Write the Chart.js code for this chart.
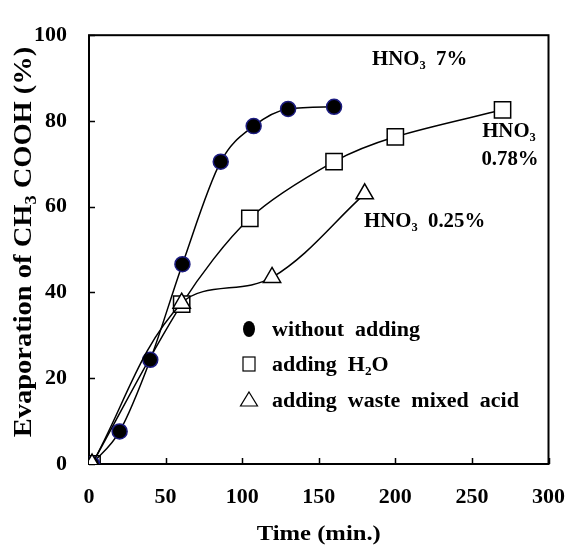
<!DOCTYPE html>
<html>
<head>
<meta charset="utf-8">
<script src="https://cdn.jsdelivr.net/npm/chart.js@4"></script>
<style>
  body { margin: 0; background: #fff; }
  #chart { display: block; }
</style>
</head>
<body>
<canvas id="chart" width="585" height="552"></canvas>
<script>
// data
const timeNoAdd = [2, 20, 40, 61, 86, 107.5, 130, 160];
const evapNoAdd = [0, 7.6, 24.3, 46.6, 70.5, 78.8, 82.8, 83.3];

const timeWater = [2, 60.5, 105, 160, 200, 270];
const evapWater = [0, 37.3, 57.3, 70.5, 76.3, 82.6];

const timeWaste = [2, 60.5, 119.5, 180];
const evapWaste = [0, 37.5, 43.5, 63];

const xTicks = [0, 50, 100, 150, 200, 250, 300];
const yTicks = [0, 20, 40, 60, 80, 100];

const legendLabels = ['without  adding', 'adding  H|2|O', 'adding  waste  mixed  acid'];

const FONT = '"Liberation Serif", "Times New Roman", serif';

function pts(xs, ys) {
  return xs.map((x, i) => ({ x: x, y: ys[i] }));
}

// text with |sub| parts for subscripts, sx stretches it sideways
function drawRich(ctx, str, x, y, size, align, sx) {
  sx = sx || 1;
  const parts = str.split('|');
  const subSize = Math.round(size * 0.62);
  let total = 0;
  parts.forEach((p, i) => {
    ctx.font = 'bold ' + (i % 2 ? subSize : size) + 'px ' + FONT;
    total += ctx.measureText(p).width;
  });
  let cx = 0;
  if (align === 'center') cx = -total / 2;
  if (align === 'right') cx = -total;
  ctx.save();
  ctx.translate(x, y);
  ctx.scale(sx, 1);
  ctx.textAlign = 'left';
  ctx.textBaseline = 'alphabetic';
  parts.forEach((p, i) => {
    const sub = i % 2 === 1;
    ctx.font = 'bold ' + (sub ? subSize : size) + 'px ' + FONT;
    ctx.fillText(p, cx, sub ? size * 0.18 : 0);
    cx += ctx.measureText(p).width;
  });
  ctx.restore();
}

const framePlugin = {
  id: 'frame',
  beforeDatasetsDraw(chart) {
    const { ctx, chartArea: a, scales } = chart;
    ctx.save();
    ctx.strokeStyle = '#000';
    ctx.lineWidth = 2;
    ctx.strokeRect(a.left, a.top, a.right - a.left, a.bottom - a.top);
    ctx.lineWidth = 1.5;
    ctx.beginPath();
    xTicks.forEach(v => {
      const px = Math.round(scales.x.getPixelForValue(v)) + 0.5;
      ctx.moveTo(px, a.bottom);
      ctx.lineTo(px, a.bottom - 6);
    });
    yTicks.forEach(v => {
      const py = Math.round(scales.y.getPixelForValue(v)) + 0.5;
      ctx.moveTo(a.left, py);
      ctx.lineTo(a.left + 6, py);
    });
    ctx.stroke();
    ctx.restore();
  },
  afterDraw(chart) {
    const { ctx, chartArea: a } = chart;
    ctx.save();
    ctx.fillStyle = '#000';

    // axis titles
    drawRich(ctx, 'Time (min.)', (a.left + a.right) / 2, 540, 22, 'center', 1.12);

    ctx.save();
    ctx.translate(22, 242);
    ctx.rotate(-Math.PI / 2);
    drawRich(ctx, 'Evaporation of CH|3| COOH (%)', 0, 9, 25, 'center', 1.14);
    ctx.restore();

    // curve labels
    drawRich(ctx, 'HNO|3|  7%', 372, 65, 20, 'left', 1.04);
    drawRich(ctx, 'HNO|3|', 509, 137, 20, 'center', 1.04);
    drawRich(ctx, '0.78%', 510, 165, 20, 'center', 1.04);
    drawRich(ctx, 'HNO|3|  0.25%', 364, 227, 20, 'left', 1.04);

    // legend inside plot
    const rows = [329, 364, 400];
    const mx = 249;
    ctx.fillStyle = '#000';
    ctx.beginPath();
    ctx.ellipse(mx, rows[0], 6, 8, 0, 0, Math.PI * 2);
    ctx.fill();
    ctx.strokeStyle = '#000';
    ctx.lineWidth = 1.2;
    ctx.strokeRect(mx - 6, rows[1] - 7, 12, 14);
    ctx.beginPath();
    ctx.moveTo(mx, rows[2] - 8);
    ctx.lineTo(mx + 8.5, rows[2] + 6);
    ctx.lineTo(mx - 8.5, rows[2] + 6);
    ctx.closePath();
    ctx.stroke();
    legendLabels.forEach((t, i) => {
      drawRich(ctx, t, 272, rows[i] + 7, 20, 'left', 1.1);
    });
    ctx.restore();
  }
};

const tickFont = { family: FONT, size: 22, weight: 'bold' };

new Chart(document.getElementById('chart'), {
  type: 'line',
  data: {
    datasets: [
      {
        label: 'adding waste mixed acid',
        data: pts(timeWaste, evapWaste),
        borderColor: '#000',
        borderWidth: 1.5,
        tension: 0.35,
        pointStyle: 'triangle',
        pointRadius: 10,
        pointBackgroundColor: '#fff',
        pointBorderColor: '#000',
        pointBorderWidth: 1.5
      },
      {
        label: 'without adding',
        data: pts(timeNoAdd, evapNoAdd),
        borderColor: '#000',
        borderWidth: 1.5,
        cubicInterpolationMode: 'monotone',
        pointStyle: 'circle',
        pointRadius: 7.5,
        pointBackgroundColor: '#000',
        pointBorderColor: '#1c1c80',
        pointBorderWidth: 1.5
      },
      {
        label: 'adding H2O',
        data: pts(timeWater, evapWater),
        borderColor: '#000',
        borderWidth: 1.5,
        tension: 0.3,
        pointStyle: 'rect',
        pointRadius: 11.5,
        pointBackgroundColor: '#fff',
        pointBorderColor: '#000',
        pointBorderWidth: 1.5
      }
    ]
  },
  options: {
    responsive: false,
    animation: false,
    layout: { padding: { top: 16, right: 16, left: 0, bottom: 0 } },
    plugins: {
      legend: { display: false },
      tooltip: { enabled: false }
    },
    scales: {
      x: {
        type: 'linear',
        min: 0,
        max: 300,
        afterFit: s => { s.height = 88; },
        afterBuildTicks: s => { s.ticks = xTicks.map(v => ({ value: v })); },
        grid: { display: false, drawTicks: false },
        border: { display: false },
        ticks: { font: tickFont, color: '#000', padding: 20, maxRotation: 0 }
      },
      y: {
        min: 0,
        max: 100,
        afterFit: s => { s.width = 89; },
        afterBuildTicks: s => { s.ticks = yTicks.map(v => ({ value: v })); },
        grid: { display: false, drawTicks: false },
        border: { display: false },
        ticks: { font: tickFont, color: '#000', padding: 22 }
      }
    }
  },
  plugins: [framePlugin]
});
</script>
</body>
</html>
